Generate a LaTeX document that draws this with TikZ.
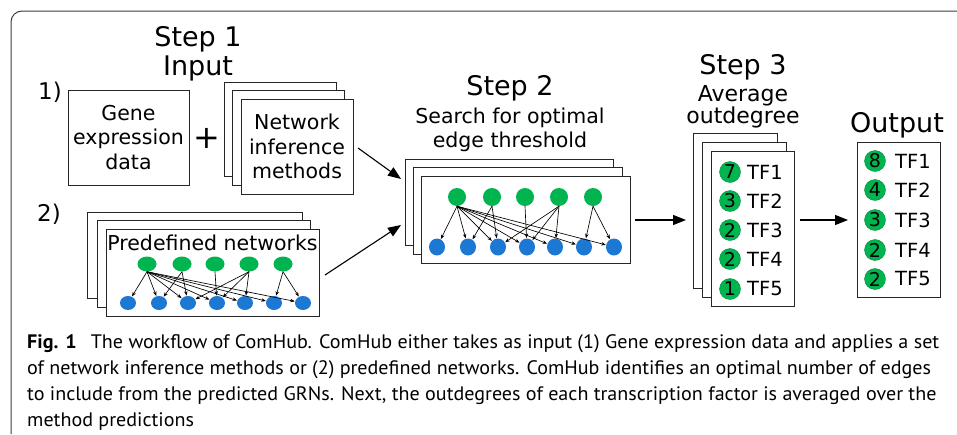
\documentclass[tikz,border=0pt]{standalone}
\usepackage{fontspec}
\setmainfont{DejaVu Sans}
\newfontfamily\capfont[FakeStretch=1.03]{PT Sans}
\usetikzlibrary{arrows.meta}
\definecolor{gnode}{RGB}{0,180,80}
\definecolor{bnode}{RGB}{28,120,210}
\definecolor{framecol}{RGB}{60,60,60}
\tikzset{
  box/.style={draw=black!85, line width=0.9pt, fill=white, inner sep=0pt},
  bigtxt/.style={font=\fontsize{27}{30}\selectfont, inner sep=0pt},
  midtxt/.style={font=\fontsize{20.5}{24.5}\selectfont, align=center, inner sep=0pt},
  gn/.style={ellipse, fill=gnode, inner sep=0pt},
  bn/.style={ellipse, fill=bnode, inner sep=0pt},
  netarrow/.style={-{Stealth[length=4.5pt,width=3.5pt]}, line width=0.65pt, shorten >=0.3pt},
  bigarrow/.style={-{Triangle[length=13pt,width=10pt]}, line width=1.1pt},
  numc/.style={circle, fill=gnode, draw=gnode!80!black, line width=0.4pt, minimum size=21pt, inner sep=0pt, font=\fontsize{19}{19}\selectfont},
  tftxt/.style={anchor=west, inner sep=0pt, font=\fontsize{19.5}{20}\selectfont},
  captxt/.style={anchor=base west, inner sep=0pt, font=\capfont\fontsize{19.5}{26}\selectfont}
}
\usetikzlibrary{shapes.geometric}
\begin{document}
\begin{tikzpicture}[x=1pt,y=-1pt]
\useasboundingbox (0,0) rectangle (957,434);
% frame
\draw[framecol, line width=1pt, rounded corners=11pt] (11,434) -- (11,11) -- (957,11);

% Step 1
\node[bigtxt] (s1a) at (198,39) {Step 1};
\node[bigtxt] (s1b) at (198,68) {Input};
\node[font=\fontsize{23}{23}\selectfont, inner sep=0pt] (one) at (50,92) {1)};
\node[font=\fontsize{23}{23}\selectfont, inner sep=0pt] (two) at (49,214) {2)};
\node[box, minimum width=121pt, minimum height=95pt] (gene) at (128.5,137.5) {};
\node[midtxt] (genet) at (gene.center) {Gene\\expression\\data};
\node[font=\fontsize{32}{32}\selectfont, inner sep=0pt] (plus) at (207,138) {+};
\node[box, minimum width=112pt, minimum height=94pt] (nimA) at (280,129) {};
\node[box, minimum width=112pt, minimum height=95pt] (nimB) at (288,137.5) {};
\node[box, minimum width=112pt, minimum height=95pt] (nim) at (297,146.5) {};
\node[midtxt] (nimt) at (nim.center) {Network\\inference\\methods};

% predefined networks
\node[box, minimum width=215pt, minimum height=86pt] (pdA) at (194.5,255) {};
\node[box, minimum width=213pt, minimum height=87pt] (pdB) at (203.5,263.5) {};
\node[box, minimum width=213pt, minimum height=87pt] (pd) at (212.5,272.5) {};
\node[midtxt] (pdt) at (212.5,243) {Predefined networks};
\foreach \i/\x in {1/147,2/182,3/215,4/249,5/283}
  \node[gn, minimum width=19pt, minimum height=15pt] (pg\i) at (\x,264) {};
\foreach \i/\x in {1/128,2/159,3/188,4/217,5/245,6/274,7/303}
  \node[bn, minimum width=16pt, minimum height=14pt] (pb\i) at (\x,303) {};
\foreach \g/\b in {1/1,1/2,1/3,1/4,1/5,1/6,1/7,2/2,2/3,3/4,4/3,4/4,4/5,5/6,5/7}
  \draw[netarrow] (pg\g.south) -- (pb\b);

% Step 2
\node[bigtxt] (s2a) at (510,88) {Step 2};
\node[midtxt] (s2b) at (510,130) {Search for optimal\\edge threshold};
\node[box, minimum width=208pt, minimum height=86pt] (s2A) at (509,202) {};
\node[box, minimum width=209pt, minimum height=87pt] (s2B) at (517.5,210.5) {};
\node[box, minimum width=209pt, minimum height=87pt] (s2) at (525.5,219.5) {};
\foreach \i/\x in {1/457,2/492,3/525,4/559,5/593}
  \node[gn, minimum width=18pt, minimum height=18pt] (sg\i) at (\x,197) {};
\foreach \i/\x in {1/437,2/468,3/498,4/527,5/555,6/584,7/614}
  \node[bn, minimum width=16pt, minimum height=17pt] (sb\i) at (\x,247) {};
\foreach \g/\b in {1/1,1/2,1/3,1/4,1/5,1/6,1/7,2/2,2/3,3/4,4/3,4/4,4/5,5/6,5/7}
  \draw[netarrow] (sg\g.south) -- (sb\b);

% arrows into step 2
\coordinate (a1s) at (358,148);
\coordinate (a1e) at (401,179);
\coordinate (a2s) at (325,275);
\coordinate (a2e) at (401,225);
\draw[bigarrow] (a1s) -- (a1e);
\draw[bigarrow] (a2s) -- (a2e);

% Step 3
\node[bigtxt] (s3a) at (743,67) {Step 3};
\node[font=\fontsize{22}{22.5}\selectfont, align=center, inner sep=0pt] (s3b) at (743,107) {Average\\outdegree};
\node[box, minimum width=84pt, minimum height=155pt] (s3A) at (735,210.5) {};
\node[box, minimum width=84pt, minimum height=155pt] (s3B) at (744,219.5) {};
\node[box, minimum width=83pt, minimum height=155pt] (s3) at (752.5,228.5) {};
\foreach \i/\y/\n in {1/172/7,2/201/3,3/230/2,4/259/2,5/289/1}{
  \node[numc] (tc\i) at (730,\y) {\n};
  \node[tftxt] (tt\i) at (747,\y) {TF\i};
}

% Output
\node[bigtxt] (outh) at (897,125) {Output};
\node[box, minimum width=83pt, minimum height=155pt] (out) at (898.5,219.5) {};
\foreach \i/\y/\n in {1/161/8,2/190/4,3/220/3,4/250/2,5/279/2}{
  \node[numc] (oc\i) at (875,\y) {\n};
  \node[tftxt] (ot\i) at (895,\y) {TF\i};
}

% arrows step2 -> step3 -> output
\coordinate (b1s) at (635,220);
\coordinate (b1e) at (686,220);
\coordinate (b2s) at (800,220);
\coordinate (b2e) at (848,220);
\draw[bigarrow] (b1s) -- (b1e);
\draw[bigarrow] (b2s) -- (b2e);

% caption
\node[captxt] (c1) at (27,348) {\textbf{Fig. 1}\hspace{0.45em} The workflow of ComHub. ComHub either takes as input (1) Gene expression data and applies a set};
\node[captxt] (c2) at (27,374) {of network inference methods or (2) predefined networks. ComHub identifies an optimal number of edges};
\node[captxt] (c3) at (27,400) {to include from the predicted GRNs. Next, the outdegrees of each transcription factor is averaged over the};
\node[captxt] (c4) at (27,426) {method predictions};
\end{tikzpicture}
\end{document}
